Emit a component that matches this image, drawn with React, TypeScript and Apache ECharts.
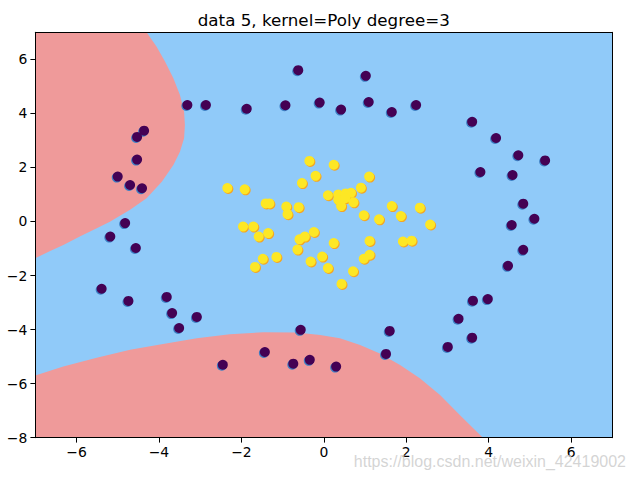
import React, { useEffect, useRef } from "react";
import * as echarts from "echarts";

const TITLE = "data 5, kernel=Poly degree=3";
const WATERMARK = "https://blog.csdn.net/weixin_42419002";

const xTicks = [-6, -4, -2, 0, 2, 4, 6];
const yTicks = [-8, -6, -4, -2, 0, 2, 4, 6];
const xRange = [-7, 7];
const yRange = [-8, 7];

// class 0 (outer ring)
const purplePoints: [number, number][] = [
  [-0.62, 5.6], [1.02, 5.39], [-3.31, 4.31], [-2.86, 4.31], [-1.87, 4.17],
  [-0.93, 4.3], [-0.1, 4.4], [0.42, 4.14], [1.09, 4.42], [1.65, 4.05],
  [2.24, 4.31], [3.6, 3.69], [4.18, 3.09], [4.72, 2.45], [5.37, 2.26],
  [3.8, 1.83], [4.58, 1.72], [4.84, 0.66], [5.11, 0.1], [4.56, -0.13],
  [4.84, -1.05], [4.47, -1.64], [3.62, -2.93], [3.98, -2.87], [3.27, -3.6],
  [3.6, -4.3], [3.01, -4.64], [1.6, -4.05], [1.51, -4.9], [0.3, -5.37],
  [-4.36, 3.36], [-4.53, 3.13], [-4.53, 2.29], [-5.0, 1.66], [-4.7, 1.35],
  [-4.41, 1.23], [-4.82, -0.06], [-5.18, -0.56], [-4.56, -0.98], [-5.39, -2.49],
  [-4.74, -2.94], [-3.81, -2.79], [-3.68, -3.39], [-3.51, -3.94], [-3.08, -3.53],
  [-2.45, -5.3], [-1.43, -4.83], [-0.56, -4.01], [-0.74, -5.26], [-0.34, -5.12],
];

// class 1 (inner blob)
const yellowPoints: [number, number][] = [
  [-0.35, 2.24], [-0.2, 1.69], [-0.53, 1.42], [-2.34, 1.24], [-1.92, 1.19],
  [0.1, 0.97], [-1.41, 0.67], [-1.32, 0.67], [-0.91, 0.55], [-0.61, 0.53],
  [-0.88, 0.27], [-1.96, -0.19], [-1.71, -0.19], [-1.58, -0.56], [-1.35, -0.43],
  [-0.59, -0.66], [-0.46, -0.56], [-0.24, -0.39], [-0.64, -1.04], [-1.15, -1.31],
  [-1.48, -1.38], [-1.67, -1.68], [-0.32, -1.48], [-0.04, -1.3], [0.1, -1.72],
  [0.24, 2.1], [1.1, 1.66], [0.9, 1.25], [0.35, 1.0], [0.53, 1.04],
  [0.66, 1.06], [0.35, 0.8], [0.52, 0.86], [0.42, 0.57], [0.72, 0.71],
  [1.65, 0.57], [2.33, 0.51], [0.97, 0.23], [1.34, 0.08], [1.87, 0.2],
  [2.58, -0.11], [0.24, -0.8], [1.11, -0.72], [1.92, -0.74], [2.13, -0.71],
  [1.11, -1.23], [0.97, -1.38], [0.71, -1.84], [0.43, -2.31],
];

// decision boundaries (class 0 region edges)
const leftBoundary: [number, number][] = [
  [-4.3, 7.0], [-4.06, 6.47], [-3.85, 5.91], [-3.65, 5.3], [-3.49, 4.68],
  [-3.39, 4.06], [-3.37, 3.57], [-3.39, 3.08], [-3.49, 2.58], [-3.65, 2.09],
  [-3.93, 1.47], [-4.3, 0.86], [-4.7, 0.43], [-5.19, -0.01], [-5.51, -0.25],
  [-5.92, -0.56], [-6.32, -0.87], [-6.64, -1.09], [-7.0, -1.36], [-7.0, 7.0],
];
const bottomBoundary: [number, number][] = [
  [-7.0, -5.7], [-6.32, -5.37], [-5.51, -5.04], [-4.7, -4.75], [-3.9, -4.53],
  [-3.08, -4.32], [-2.28, -4.17], [-1.47, -4.1], [-0.66, -4.11], [-0.09, -4.2],
  [0.39, -4.32], [0.88, -4.57], [1.36, -4.88], [1.85, -5.31], [2.33, -5.8],
  [2.82, -6.42], [3.3, -7.16], [3.86, -8.0], [-7.0, -8.0],
];
const regions = [leftBoundary, bottomBoundary];

const PINK = "#EF9A9A";
const BLUE = "#90CAF9";
const PURPLE = "#440154";
const YELLOW = "#FDE725";

const fmt = (v: number) => String(v).replace("-", "\u2212");

export default function App() {
  const ref = useRef<HTMLDivElement>(null);
  useEffect(() => {
    const chart = echarts.init(ref.current!, null, { renderer: "svg" });
    const font = "DejaVu Sans";
    const labelStyle = { color: "#000", fontFamily: font, fontSize: 13.9 };
    const frameAxis = {
      axisLine: { show: true, onZero: false, lineStyle: { color: "#000", width: 1 } },
      splitLine: { show: false },
      z: 10,
    };
    chart.setOption({
      animation: false,
      grid: {
        left: 35.3, top: 32.3, right: 23.7, bottom: 42.3,
        show: true, backgroundColor: BLUE, borderWidth: 0,
      },
      xAxis: [
        {
          type: "value", min: xRange[0], max: xRange[1], position: "bottom",
          ...frameAxis,
          axisTick: { show: true, length: 4.9, customValues: xTicks, lineStyle: { color: "#000" } },
          axisLabel: { ...labelStyle, margin: 7, customValues: xTicks, formatter: fmt },
        },
        {
          type: "value", min: xRange[0], max: xRange[1], position: "top",
          ...frameAxis, axisTick: { show: false }, axisLabel: { show: false },
        },
      ],
      yAxis: [
        {
          type: "value", min: yRange[0], max: yRange[1], position: "left",
          ...frameAxis,
          axisTick: { show: true, length: 4.9, customValues: yTicks, lineStyle: { color: "#000" } },
          axisLabel: { ...labelStyle, margin: 8, customValues: yTicks, formatter: fmt },
        },
        {
          type: "value", min: yRange[0], max: yRange[1], position: "right",
          ...frameAxis, axisTick: { show: false }, axisLabel: { show: false },
        },
      ],
      graphic: [
        {
          type: "text", x: 323.8, y: 19.5, z: 20,
          style: { text: TITLE, textAlign: "center", textVerticalAlign: "middle",
            font: `16.7px "${font}"`, fill: "#000" },
        },
        {
          type: "text", x: 626, y: 461, z: 20,
          style: { text: WATERMARK, textAlign: "right", textVerticalAlign: "middle",
            font: '16px "Liberation Sans"', fill: "rgba(205,205,205,0.85)" },
        },
      ],
      series: [
        {
          type: "custom",
          coordinateSystem: "cartesian2d",
          silent: true,
          clip: true,
          z: 1,
          data: regions.map((_, i) => [i, 0]),
          encode: { x: 0, y: 1 },
          renderItem: (params: any, api: any) => {
            const pts = regions[params.dataIndex].map((p) => api.coord(p));
            return { type: "polygon", shape: { points: pts }, style: { fill: PINK } };
          },
        },
        {
          type: "scatter", data: purplePoints, symbolSize: 10, symbolOffset: [-1, 1],
          itemStyle: { color: "#3d7fc4", opacity: 1 }, z: 3, silent: true,
        },
        {
          type: "scatter", data: yellowPoints, symbolSize: 10, symbolOffset: [1, 1],
          itemStyle: { color: "#f5a623", opacity: 1 }, z: 3, silent: true,
        },
        {
          type: "scatter", data: purplePoints, symbolSize: 10,
          itemStyle: { color: PURPLE, opacity: 1 }, z: 4, silent: true,
        },
        {
          type: "scatter", data: yellowPoints, symbolSize: 10,
          itemStyle: { color: YELLOW, opacity: 1 }, z: 4, silent: true,
        },
      ],
    });
    return () => chart.dispose();
  }, []);
  return (
    <div
      ref={ref}
      style={{ position: "fixed", left: 0, top: 0, width: 636, height: 480, background: "#fff" }}
    />
  );
}
